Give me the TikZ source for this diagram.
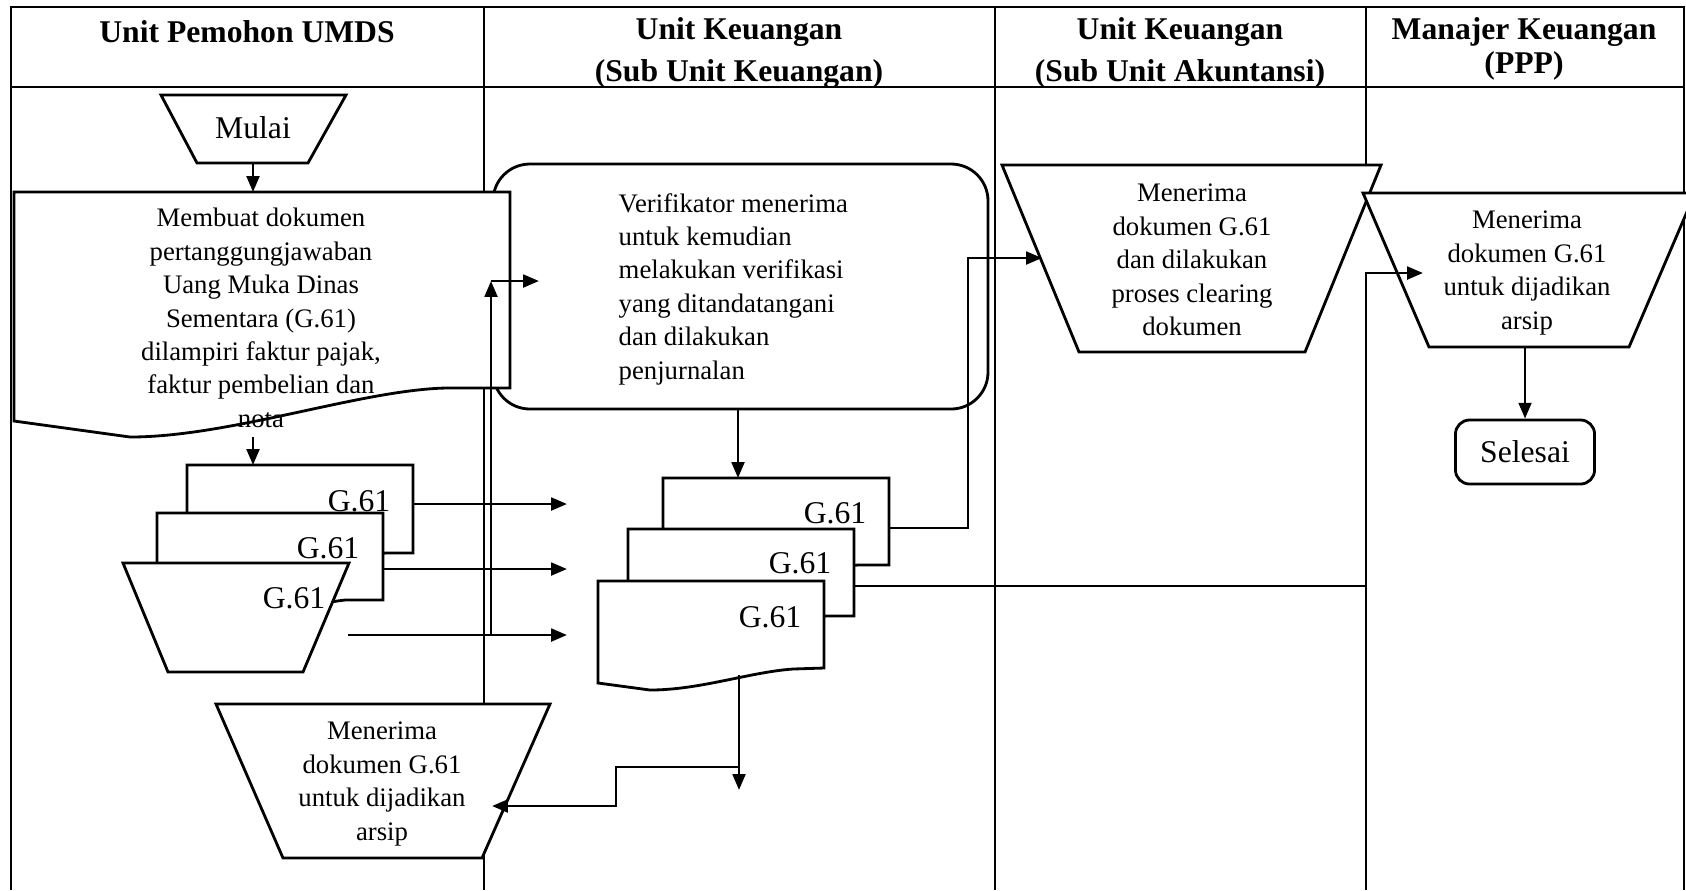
\documentclass[tikz,border=0pt]{standalone}
\usepackage{fontspec}
\setmainfont{Liberation Serif}
\usetikzlibrary{arrows.meta,calc,positioning}

\begin{document}
\begin{tikzpicture}[x=0.01cm,y=-0.01cm,>={Triangle[length=4.5pt,width=3.6pt]},
  lane/.style={line width=0.66pt},
  box/.style={draw,line width=0.8pt,fill=white},
  flow/.style={->,line width=0.8pt},
  hdr/.style={font=\fontsize{9}{11.9}\selectfont\bfseries,align=center,inner sep=0pt},
  txt/.style={font=\fontsize{7.6}{9.5}\selectfont,align=center,inner sep=0pt},
  lbl/.style={font=\fontsize{9}{11}\selectfont,inner sep=0pt}]
  \useasboundingbox (0,0) rectangle (1686,890);
  \clip (0,0) rectangle (1686,890);
  % swimlanes
  \draw[lane] (11,890) -- (11,7) -- (1684,7) -- (1684,890);
  \draw[lane] (11,87) -- (1684,87);
  \foreach \x in {484,995} \draw[lane] (\x,7) -- (\x,890);
  \draw[lane] (1366,7) -- (1366,170) (1366,273) -- (1366,890);
  \node[hdr] (hPemohon) at (247,32) {Unit Pemohon UMDS};
  \node[hdr] (hKeuangan) at (739,53) {Unit Keuangan\\(Sub Unit Keuangan)};
  \node[hdr] (hAkuntansi) at (1180,53) {Unit Keuangan\\(Sub Unit Akuntansi)};
  \node[hdr,font=\fontsize{9}{9.7}\selectfont\bfseries] (hManajer) at (1524,49) {Manajer Keuangan\\(PPP)};

  % shapes
  \draw[box,rounded corners=10.5pt] (493,164) rectangle (988,409);
  \draw[box] (14,192) -- (510,192) -- (510,388) -- (446,388)
    .. controls (360,390) and (230,437) .. (130,437) -- (14,421) -- cycle;
  \draw[box] (161,95) -- (346,95) -- (308,163) -- (197,163) -- cycle;
  % stack, Unit Pemohon
  \draw[box] (187,465) -- (413,465) -- (413,553) -- (386,553)
    .. controls (350,556) and (280,572) .. (230,572) -- (187,566) -- cycle;
  \draw[box] (157,513) -- (383,513) -- (383,600) -- (345,600)
    .. controls (310,604) and (250,620) .. (200,620) -- (157,614) -- cycle;
  \draw[box] (123,563) -- (349,563) -- (303,672) -- (168,672) -- cycle;
  \draw[box] (216,704) -- (550,704) -- (482,858) -- (283,858) -- cycle;
  % stack, Sub Unit Keuangan
  \draw[box] (663,478) -- (889,478) -- (889,565) -- (858,565)
    .. controls (820,568) and (760,585) .. (710,585) -- (663,579) -- cycle;
  \draw[box] (628,529) -- (854,529) -- (854,616) -- (826,616)
    .. controls (790,619) and (730,636) .. (680,636) -- (628,630) -- cycle;
  \draw[box] (598,581) -- (824,581) -- (824,668) -- (793,669)
    .. controls (750,672) and (700,690) .. (650,690) -- (598,683) -- cycle;
  \draw[box] (1002,165) -- (1381,165) -- (1305,352) -- (1079,352) -- cycle;
  \draw[box] (1363,193) -- (1695,193) -- (1629,347) -- (1429,347) -- cycle;

  % texts
  \node[lbl] (mulai) at (253,128) {Mulai};
  \node[txt] (buat) at (261,318) {Membuat dokumen\\pertanggungjawaban\\Uang Muka Dinas\\Sementara (G.61)\\dilampiri faktur pajak,\\faktur pembelian dan\\nota};
  \node[txt,align=left,anchor=west] (verif) at (618,289) {Verifikator menerima\\untuk kemudian\\melakukan verifikasi\\yang ditandatangani\\dan dilakukan\\penjurnalan};
  \node[lbl] (gA) at (359,501) {G.61};
  \node[lbl] (gB) at (328,548) {G.61};
  \node[lbl] (gC) at (294,598) {G.61};
  \node[lbl] (kA) at (835,513) {G.61};
  \node[lbl] (kB) at (800,563) {G.61};
  \node[lbl] (kC) at (770,617) {G.61};
  \node[txt] (arsip1) at (382,784) {Menerima\\dokumen G.61\\untuk dijadikan\\arsip};
  \node[txt] (clearing) at (1192,260) {Menerima\\dokumen G.61\\dan dilakukan\\proses clearing\\dokumen};
  \node[txt] (arsip2) at (1527,273) {Menerima\\dokumen G.61\\untuk dijadikan\\arsip};
  \node[lbl,draw,line width=0.8pt,rounded corners=4pt,minimum width=1.39cm,minimum height=0.64cm] (selesai) at (1525,452) {Selesai};

  % connector ends
  \coordinate (mulaiS) at (253,163);
  \coordinate (buatN) at (253,192);
  \coordinate (buatS) at (253,437);
  \coordinate (gAN) at (253,465);
  \coordinate (gAE) at (413,504);
  \coordinate (gBE) at (383,569);
  \coordinate (gCE) at (348,635);
  \coordinate (inA) at (567,504);
  \coordinate (inB) at (567,569);
  \coordinate (inC) at (567,635);
  \coordinate (upS) at (491,635);
  \coordinate (upN) at (491,281);
  \coordinate (verifW) at (539,281);
  \coordinate (verifS) at (738,409);
  \coordinate (kAN) at (738,478);
  \coordinate (kCS) at (739,675);
  \coordinate (kCend) at (739,790);
  \coordinate (kCsplit) at (739,767);
  \coordinate (arsip1E) at (492,806);
  \coordinate (kAE) at (889,528);
  \coordinate (clearingW) at (1042,258);
  \coordinate (kBE) at (854,586);
  \coordinate (arsip2W) at (1423,273);
  \coordinate (arsip2S) at (1525,347);

  % connectors
  \draw[flow] (mulaiS) -- (buatN);
  \draw[flow] (buatS) -- (gAN);
  \draw[flow] (gAE) -- (inA);
  \draw[flow] (gBE) -- (inB);
  \draw[flow] (gCE) -- (inC);
  \draw[flow] (upS) -- (upN);
  \draw[flow] (upN) -- (verifW);
  \draw[flow] (verifS) -- (kAN);
  \draw[flow] (kCS) -- (kCend);
  \draw[flow] (kCsplit) -- (616,767) -- (616,806) -- (arsip1E);
  \draw[flow] (kAE) -| (968,258) -- (clearingW);
  \draw[flow] (kBE) -| (1366,273) -- (arsip2W);
  \draw[flow] (arsip2S) -- (selesai);
\end{tikzpicture}
\end{document}
